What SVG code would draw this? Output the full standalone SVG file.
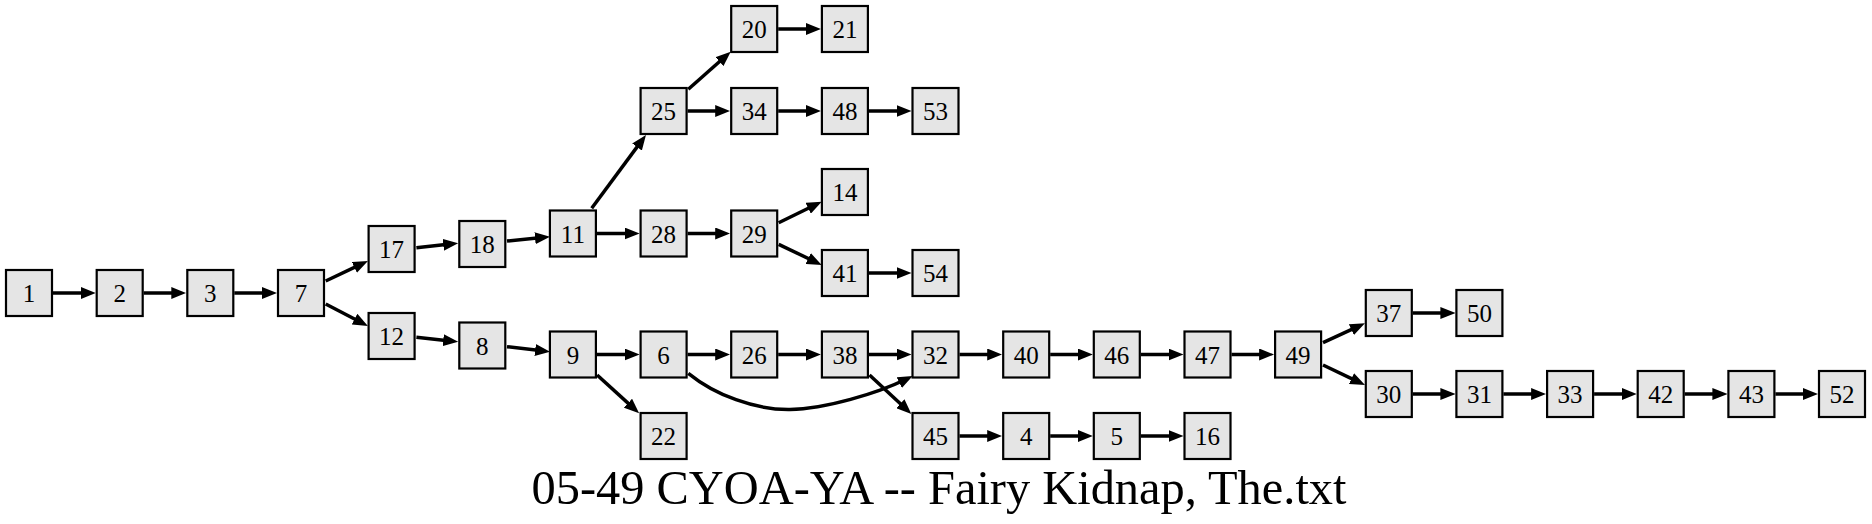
<svg xmlns="http://www.w3.org/2000/svg" width="1872" height="524" viewBox="0 0 1872 524">
<style>
.n rect{fill:#e5e5e5;stroke:#000;stroke-width:2.2}
.n text{font-family:"Liberation Serif","Times New Roman",serif;font-size:25px;text-anchor:middle;fill:#000}
.e path{stroke:#000;stroke-width:3.5;fill:none;marker-end:url(#a)}
.t{font-family:"Liberation Serif","Times New Roman",serif;font-size:48.4px;text-anchor:middle;fill:#000}
</style>
<defs>
<marker id="a" markerUnits="userSpaceOnUse" markerWidth="15" markerHeight="12" viewBox="0 0 15 12" refX="7" refY="6" orient="auto">
<path d="M0,0 L15,6 L0,12 z" fill="#000"/>
</marker>
</defs>
<rect width="1872" height="524" fill="#fff"/>
<g id="edges" class="e">
<path d="M53,293 H87.7"/>
<path d="M143.7,293 H178.3"/>
<path d="M234.3,293 H269"/>
<path d="M325.7,281 L360.7,264.4"/>
<path d="M325.7,304 L360.8,322.3"/>
<path d="M416.4,247.7 L450.2,244.1"/>
<path d="M416.4,337.3 L450.2,340.9"/>
<path d="M507,241 L542,237.5"/>
<path d="M507,346.7 L542.1,350.8"/>
<path d="M591.7,208.3 L641.2,141.4"/>
<path d="M596.9,233.5 H631.6"/>
<path d="M688.3,89.3 L724.7,57"/>
<path d="M687.6,111 H722.2"/>
<path d="M778.2,29 H812.9"/>
<path d="M778.2,111 H812.9"/>
<path d="M868.9,111 H903.5"/>
<path d="M687.6,233.5 H722.2"/>
<path d="M778.7,222.7 L814.5,205.2"/>
<path d="M778.7,244.3 L814.5,261.5"/>
<path d="M868.9,273 H903.5"/>
<path d="M596.9,354.5 H631.6"/>
<path d="M597.1,375 L633.2,407.9"/>
<path d="M687.6,354.5 H722.2"/>
<path d="M688.3,373.3 C715,395 755,410 790,409.5 C825,409 878,393 905.5,379.5"/>
<path d="M778.2,354.5 H812.9"/>
<path d="M868.9,354.5 H903.5"/>
<path d="M869.5,375 L905.5,408.5"/>
<path d="M959.5,354.5 H994.2"/>
<path d="M1050.2,354.5 H1084.8"/>
<path d="M1140.8,354.5 H1175.5"/>
<path d="M1231.5,354.5 H1266.1"/>
<path d="M1323,342.7 L1357.7,326.7"/>
<path d="M1323,365 L1357.8,381.6"/>
<path d="M1412.8,313 H1447.4"/>
<path d="M1412.8,394 H1447.4"/>
<path d="M1503.4,394 H1538.1"/>
<path d="M1594.1,394 H1628.7"/>
<path d="M1684.7,394 H1719.4"/>
<path d="M1775.4,394 H1810"/>
<path d="M959.5,436 H994.2"/>
<path d="M1050.2,436 H1084.8"/>
<path d="M1140.8,436 H1175.5"/>
</g>
<g id="n1" class="n"><rect x="6" y="270" width="46" height="46"/><text x="29" y="302">1</text></g>
<g id="n2" class="n"><rect x="96.7" y="270" width="46" height="46"/><text x="119.7" y="302">2</text></g>
<g id="n3" class="n"><rect x="187.3" y="270" width="46" height="46"/><text x="210.3" y="302">3</text></g>
<g id="n7" class="n"><rect x="278" y="270" width="46" height="46"/><text x="301" y="302">7</text></g>
<g id="n17" class="n"><rect x="368.6" y="226" width="46" height="46"/><text x="391.6" y="258">17</text></g>
<g id="n12" class="n"><rect x="368.6" y="313" width="46" height="46"/><text x="391.6" y="345">12</text></g>
<g id="n18" class="n"><rect x="459.3" y="221" width="46" height="46"/><text x="482.3" y="253">18</text></g>
<g id="n8" class="n"><rect x="459.3" y="322.5" width="46" height="46"/><text x="482.3" y="354.5">8</text></g>
<g id="n11" class="n"><rect x="549.9" y="210.5" width="46" height="46"/><text x="572.9" y="242.5">11</text></g>
<g id="n9" class="n"><rect x="549.9" y="331.5" width="46" height="46"/><text x="572.9" y="363.5">9</text></g>
<g id="n25" class="n"><rect x="640.6" y="88" width="46" height="46"/><text x="663.6" y="120">25</text></g>
<g id="n28" class="n"><rect x="640.6" y="210.5" width="46" height="46"/><text x="663.6" y="242.5">28</text></g>
<g id="n6" class="n"><rect x="640.6" y="331.5" width="46" height="46"/><text x="663.6" y="363.5">6</text></g>
<g id="n22" class="n"><rect x="640.6" y="413" width="46" height="46"/><text x="663.6" y="445">22</text></g>
<g id="n20" class="n"><rect x="731.2" y="6" width="46" height="46"/><text x="754.2" y="38">20</text></g>
<g id="n34" class="n"><rect x="731.2" y="88" width="46" height="46"/><text x="754.2" y="120">34</text></g>
<g id="n29" class="n"><rect x="731.2" y="210.5" width="46" height="46"/><text x="754.2" y="242.5">29</text></g>
<g id="n26" class="n"><rect x="731.2" y="331.5" width="46" height="46"/><text x="754.2" y="363.5">26</text></g>
<g id="n21" class="n"><rect x="821.9" y="6" width="46" height="46"/><text x="844.9" y="38">21</text></g>
<g id="n48" class="n"><rect x="821.9" y="88" width="46" height="46"/><text x="844.9" y="120">48</text></g>
<g id="n14" class="n"><rect x="821.9" y="169" width="46" height="46"/><text x="844.9" y="201">14</text></g>
<g id="n41" class="n"><rect x="821.9" y="250" width="46" height="46"/><text x="844.9" y="282">41</text></g>
<g id="n38" class="n"><rect x="821.9" y="331.5" width="46" height="46"/><text x="844.9" y="363.5">38</text></g>
<g id="n53" class="n"><rect x="912.5" y="88" width="46" height="46"/><text x="935.5" y="120">53</text></g>
<g id="n54" class="n"><rect x="912.5" y="250" width="46" height="46"/><text x="935.5" y="282">54</text></g>
<g id="n32" class="n"><rect x="912.5" y="331.5" width="46" height="46"/><text x="935.5" y="363.5">32</text></g>
<g id="n45" class="n"><rect x="912.5" y="413" width="46" height="46"/><text x="935.5" y="445">45</text></g>
<g id="n40" class="n"><rect x="1003.2" y="331.5" width="46" height="46"/><text x="1026.2" y="363.5">40</text></g>
<g id="n4" class="n"><rect x="1003.2" y="413" width="46" height="46"/><text x="1026.2" y="445">4</text></g>
<g id="n46" class="n"><rect x="1093.8" y="331.5" width="46" height="46"/><text x="1116.8" y="363.5">46</text></g>
<g id="n5" class="n"><rect x="1093.8" y="413" width="46" height="46"/><text x="1116.8" y="445">5</text></g>
<g id="n47" class="n"><rect x="1184.5" y="331.5" width="46" height="46"/><text x="1207.5" y="363.5">47</text></g>
<g id="n16" class="n"><rect x="1184.5" y="413" width="46" height="46"/><text x="1207.5" y="445">16</text></g>
<g id="n49" class="n"><rect x="1275.1" y="331.5" width="46" height="46"/><text x="1298.1" y="363.5">49</text></g>
<g id="n37" class="n"><rect x="1365.8" y="290" width="46" height="46"/><text x="1388.8" y="322">37</text></g>
<g id="n30" class="n"><rect x="1365.8" y="371" width="46" height="46"/><text x="1388.8" y="403">30</text></g>
<g id="n50" class="n"><rect x="1456.4" y="290" width="46" height="46"/><text x="1479.4" y="322">50</text></g>
<g id="n31" class="n"><rect x="1456.4" y="371" width="46" height="46"/><text x="1479.4" y="403">31</text></g>
<g id="n33" class="n"><rect x="1547.1" y="371" width="46" height="46"/><text x="1570.1" y="403">33</text></g>
<g id="n42" class="n"><rect x="1637.7" y="371" width="46" height="46"/><text x="1660.7" y="403">42</text></g>
<g id="n43" class="n"><rect x="1728.4" y="371" width="46" height="46"/><text x="1751.4" y="403">43</text></g>
<g id="n52" class="n"><rect x="1819" y="371" width="46" height="46"/><text x="1842" y="403">52</text></g>
<text class="t" x="939" y="504">05-49 CYOA-YA -- Fairy Kidnap, The.txt</text>
</svg>
